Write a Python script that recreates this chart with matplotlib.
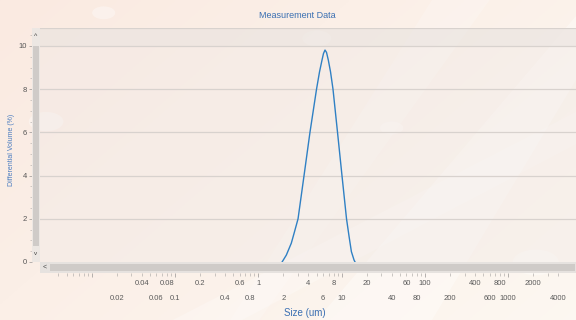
import numpy as np
import matplotlib
matplotlib.use("Agg")
import matplotlib.pyplot as plt
from matplotlib.patches import Rectangle, Polygon, Circle
from matplotlib.ticker import FixedLocator, NullFormatter, MultipleLocator

plt.rcParams["font.family"] = ["Liberation Sans", "DejaVu Sans"]

# size distribution
size_um = [1.93, 2.17, 2.49, 2.72, 3.00, 3.54, 4.17, 5.00, 5.43, 5.82, 6.06, 6.32,
           6.59, 6.92, 7.36, 7.88, 8.93, 10.1, 11.45, 12.3, 13.1, 14.1, 14.5]
volume_pct = [0.0, 0.32, 0.87, 1.4, 2.0, 4.0, 6.0, 8.0, 8.8, 9.35, 9.65, 9.81,
              9.7, 9.35, 8.8, 8.0, 6.0, 4.0, 2.0, 1.17, 0.48, 0.09, 0.0]

row1_ticks = [0.04, 0.08, 0.2, 0.6, 1, 4, 8, 20, 60, 100, 400, 800, 2000]
row2_ticks = [0.02, 0.06, 0.1, 0.4, 0.8, 2, 6, 10, 40, 80, 200, 600, 1000, 4000]
y_ticks = [0, 2, 4, 6, 8, 10]

W, H = 576, 320
fig = plt.figure(figsize=(W / 100, H / 100), dpi=100)


def box(x0, y0, x1, y1):
    # pixel box (top-left origin) -> figure fraction rect
    return [x0 / W, 1 - y1 / H, (x1 - x0) / W, (y1 - y0) / H]


# background: warm peach gradient with soft light rays
bg = fig.add_axes([0, 0, 1, 1], zorder=-5)
gx, gy = np.meshgrid(np.linspace(0, 1, 200), np.linspace(0, 1, 120))
c0 = np.array([250, 234, 225]) / 255
c1 = np.array([253, 249, 243]) / 255
t = np.clip(0.55 * gx + 0.35 * (1 - gy), 0, 1)[..., None]
img = c0 * (1 - t) + c1 * t
bg.imshow(img, extent=[0, 1, 0, 1], aspect="auto", origin="lower")
for pts, a in [([(0.55, 0), (0.75, 0), (1.0, 0.75), (1.0, 0.95)], 0.35),
               ([(0.30, 0), (0.42, 0), (1.0, 0.55), (1.0, 0.65)], 0.25),
               ([(0.75, 1), (0.85, 1), (0.45, 0), (0.40, 0)], 0.2)]:
    bg.add_patch(Polygon(pts, closed=True, color="white", alpha=a, lw=0))
for cx, cy, r in [(0.18, 0.96, 0.02), (0.55, 0.88, 0.025), (0.93, 0.18, 0.04),
                  (0.08, 0.62, 0.03), (0.68, 0.60, 0.02)]:
    bg.add_patch(Circle((cx, cy), r, color="white", alpha=0.35, lw=0))
bg.set_xlim(0, 1)
bg.set_ylim(0, 1)
bg.axis("off")

# main plot area
ax = fig.add_axes(box(40, 28, 576, 262))
ax.set_facecolor((0.94, 0.915, 0.9, 0.4))
ax.set_xscale("log")
ax.set_xlim(0.0024, 6500)
ax.set_ylim(0, 10.83)
ax.axhspan(10, 10.83, color="#e8e2de", alpha=0.45, lw=0)
for v in y_ticks[1:] + [10.83]:
    ax.axhline(v, color="#d8d2ce", lw=0.9, zorder=1)

ax.plot(size_um, volume_pct, color="#2f80c4", lw=1.0, zorder=3)

for s in ["top", "right", "left", "bottom"]:
    ax.spines[s].set_visible(False)
ax.spines["left"].set_position(("outward", 6))
ax.spines["bottom"].set_position(("outward", 8.2))

ax.set_yticks(y_ticks)
ax.yaxis.set_minor_locator(MultipleLocator(0.5))
ax.tick_params(axis="y", which="major", length=2.2, width=0.6, color="#a8a4a2",
               labelsize=5.5, labelcolor="#555555", pad=1)
ax.tick_params(axis="y", which="minor", length=1.4, width=0.5, color="#bbb7b4")

decades = [0.01, 0.1, 1, 10, 100, 1000]
minor = [m * d for d in [0.001] + decades for m in range(2, 10) if 0.004 <= m * d <= 4000]
ax.xaxis.set_major_locator(FixedLocator(decades))
ax.xaxis.set_minor_locator(FixedLocator(minor))
ax.xaxis.set_major_formatter(NullFormatter())
ax.xaxis.set_minor_formatter(NullFormatter())
ax.tick_params(axis="x", which="major", length=2.6, width=0.6, color="#a8a4a2")
ax.tick_params(axis="x", which="minor", length=1.8, width=0.5, color="#b5b1ae")

# staggered x labels
for v in row1_ticks:
    ax.text(v, -0.094, f"{v:g}", transform=ax.get_xaxis_transform(),
            ha="center", va="center", fontsize=5.5, color="#5a5a5a", clip_on=False)
for v in row2_ticks:
    ax.text(v, -0.154, f"{v:g}", transform=ax.get_xaxis_transform(),
            ha="center", va="center", fontsize=5.5, color="#5a5a5a", clip_on=False)

# scrollbars
vs = fig.add_axes(box(32, 28, 40, 262))
vs.add_patch(Rectangle((0, 0), 1, 1, color="#ece7e3", lw=0))
vs.add_patch(Rectangle((0.15, 0.07), 0.7, 0.855, color="#cfcbc8", lw=0))
vs.text(0.5, 0.965, "^", ha="center", va="center", fontsize=5, color="#444444")
vs.text(0.5, 0.035, "v", ha="center", va="center", fontsize=4.5, color="#444444")
vs.set_xlim(0, 1)
vs.set_ylim(0, 1)
vs.axis("off")

hs = fig.add_axes(box(40, 262, 576, 273))
hs.add_patch(Rectangle((0, 0), 1, 1, color="#e6e2df", lw=0))
hs.add_patch(Rectangle((0.019, 0.15), 0.98, 0.7, color="#cfcbc8", lw=0))
hs.text(0.008, 0.5, "<", ha="center", va="center", fontsize=5, color="#444444")
hs.set_xlim(0, 1)
hs.set_ylim(0, 1)
hs.axis("off")

fig.text(297 / W, 1 - 16 / H, "Measurement Data", ha="center", va="center",
         fontsize=6.5, color="#3a6fb2")
fig.text(305 / W, 1 - 313 / H, "Size (um)", ha="center", va="center",
         fontsize=7, color="#3a6fb2")
fig.text(12 / W, 1 - 150 / H, "Differential Volume (%)", ha="center", va="center",
         rotation=90, fontsize=5, color="#4a7cc0")

fig.savefig("out.png", dpi=100)
